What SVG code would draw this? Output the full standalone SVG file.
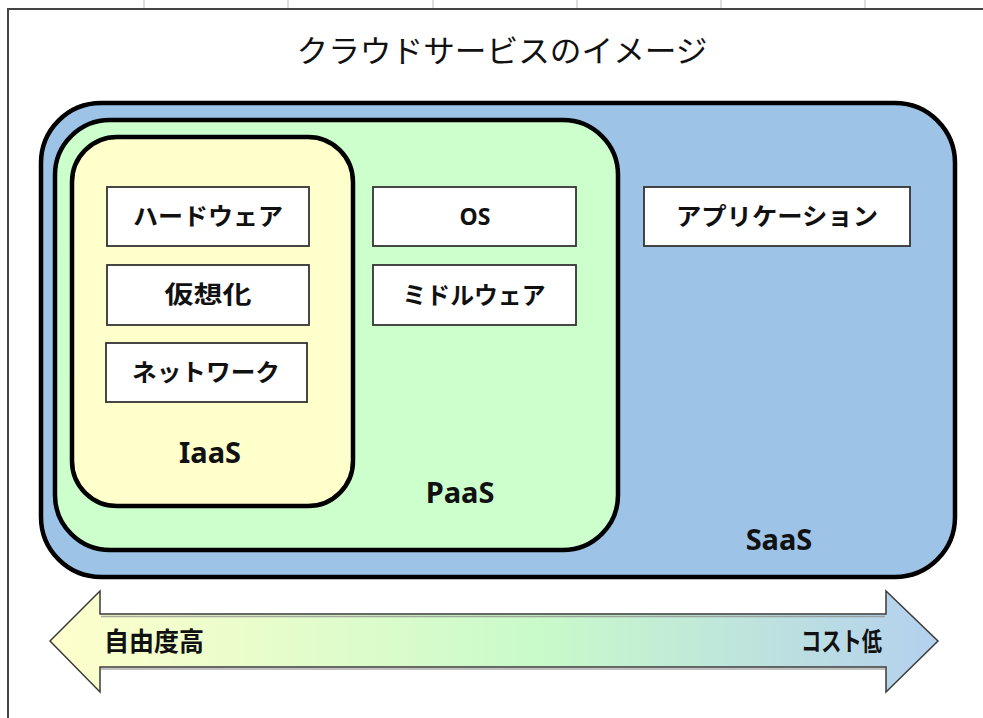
<svg xmlns="http://www.w3.org/2000/svg" width="983" height="718" viewBox="0 0 983 718">
  <style>
    .jp { font-family: "Noto Sans CJK JP", "Noto Sans", sans-serif; fill: #111; }
    .lbl { font-size: 24px; font-weight: bold; text-anchor: middle; }
    .tier { font-family: "Noto Sans", "DejaVu Sans", sans-serif; font-size: 29px; font-weight: bold; fill: #111; text-anchor: middle; }
    .layer { stroke: #000; stroke-width: 4.5; }
    .box { fill: #fff; stroke: #333; stroke-width: 1.8; }
    .grid { stroke: #bbb; stroke-width: 1; }
  </style>
  <defs>
    <linearGradient id="scale" x1="50" y1="0" x2="938" y2="0" gradientUnits="userSpaceOnUse">
      <stop offset="0" stop-color="#FFFFCC"/>
      <stop offset="0.55" stop-color="#C9FACA"/>
      <stop offset="1" stop-color="#B4D0EE"/>
    </linearGradient>
  </defs>

  <rect x="0" y="0" width="983" height="718" fill="#fff"/>

  <!-- sheet gridline ticks and frame -->
  <g id="frame">
    <line class="grid" x1="144" y1="0" x2="144" y2="8"/>
    <line class="grid" x1="288" y1="0" x2="288" y2="8"/>
    <line class="grid" x1="433" y1="0" x2="433" y2="8"/>
    <line class="grid" x1="577" y1="0" x2="577" y2="8"/>
    <line class="grid" x1="721" y1="0" x2="721" y2="8"/>
    <line class="grid" x1="865" y1="0" x2="865" y2="8"/>
    <path d="M8 718 V9 H983" fill="none" stroke="#444" stroke-width="2"/>
  </g>

  <g id="title">
    <text class="jp" x="502" y="62" font-size="31" text-anchor="middle" textLength="411" lengthAdjust="spacingAndGlyphs">クラウドサービスのイメージ</text>
  </g>

  <!-- nested service layers -->
  <g id="saas">
    <rect class="layer" x="41" y="103" width="914" height="474" rx="60" ry="60" fill="#9DC3E6"/>
    <text class="tier" x="779" y="550">SaaS</text>
  </g>
  <g id="paas">
    <rect class="layer" x="55" y="120" width="563" height="430" rx="55" ry="55" fill="#CCFFCC"/>
    <text class="tier" x="460" y="503">PaaS</text>
  </g>
  <g id="iaas">
    <rect class="layer" x="72" y="137" width="281" height="369" rx="45" ry="45" fill="#FFFFCC"/>
    <text class="tier" x="210" y="463">IaaS</text>
  </g>

  <g id="hardware">
    <rect class="box" x="107" y="187" width="202" height="59"/>
    <text class="jp lbl" x="208" y="225" textLength="150" lengthAdjust="spacingAndGlyphs">ハードウェア</text>
  </g>
  <g id="virtualization">
    <rect class="box" x="107" y="265" width="202" height="60"/>
    <text class="jp lbl" x="208" y="303" textLength="87" lengthAdjust="spacingAndGlyphs">仮想化</text>
  </g>
  <g id="network">
    <rect class="box" x="106" y="343" width="201" height="59"/>
    <text class="jp lbl" x="206" y="381" textLength="148" lengthAdjust="spacingAndGlyphs">ネットワーク</text>
  </g>
  <g id="os">
    <rect class="box" x="373" y="187" width="203" height="59"/>
    <text x="475" y="225" font-family="Noto Sans, DejaVu Sans, sans-serif" font-size="23" font-weight="bold" fill="#111" text-anchor="middle">OS</text>
  </g>
  <g id="middleware">
    <rect class="box" x="373" y="265" width="203" height="60"/>
    <text class="jp lbl" x="474" y="304" textLength="143" lengthAdjust="spacingAndGlyphs">ミドルウェア</text>
  </g>
  <g id="application">
    <rect class="box" x="644" y="187" width="266" height="59"/>
    <text class="jp lbl" x="777" y="225" textLength="202" lengthAdjust="spacingAndGlyphs">アプリケーション</text>
  </g>

  <!-- double-headed scale arrow -->
  <g id="connectors">
    <path d="M50 641 L100 591 V614 H886 V591 L938 641 L886 692 V667 H100 V692 Z" fill="url(#scale)" stroke="#3a3a3a" stroke-width="1.5" stroke-linejoin="miter"/>
    <line x1="101" y1="616.5" x2="885" y2="616.5" stroke="#888" stroke-width="1.5" opacity="0.7"/>
    <line x1="101" y1="669" x2="885" y2="669" stroke="#888" stroke-width="1.5" opacity="0.7"/>
    <text class="jp" x="104" y="651" font-size="26" font-weight="bold" textLength="100" lengthAdjust="spacingAndGlyphs">自由度高</text>
    <text class="jp" x="882" y="651" font-size="26" font-weight="bold" text-anchor="end" textLength="81" lengthAdjust="spacingAndGlyphs">コスト低</text>
  </g>
</svg>
